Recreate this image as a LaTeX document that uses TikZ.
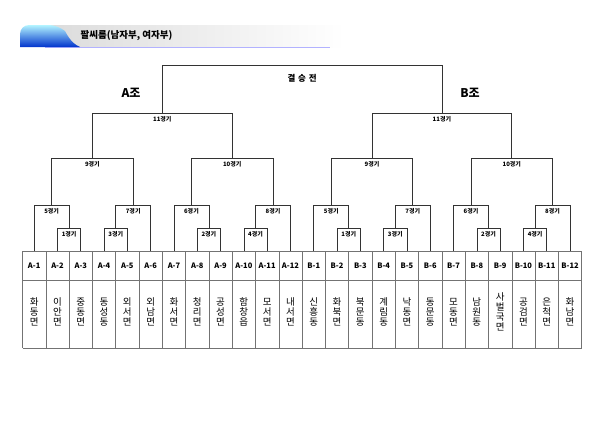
\documentclass[tikz,border=0pt]{standalone}
\usepackage{fontspec}
\setmainfont{Noto Sans CJK KR}
\usetikzlibrary{calc}
\tikzset{
 br/.style={draw=black!80,line width=0.7pt},
 glab/.style={font=\fontsize{6}{6}\selectfont\bfseries,inner sep=1pt},
 idlab/.style={font=\fontsize{7.5}{8}\selectfont\bfseries},
 nmlab/.style={font=\fontsize{9.5}{10.2}\selectfont,align=center},
 grp/.style={font=\fontsize{12}{12}\selectfont\bfseries},
}
\newcommand\game[5]{% name,left,right,y(pt),label
 \draw[br] let \p1=(#2), \p2=(#3) in (\p1) -- (\x1,-#4 pt) -- node[glab,below=2.5pt]{#5} coordinate (#1) (\x2,-#4 pt) -- (\p2);}
\begin{document}
\begin{tikzpicture}[x=1pt,y=-1pt]
\useasboundingbox (0,0) rectangle (600,424);
% title bar
\shade[left color=black!14,right color=white] (45,25) rectangle (345,47);
\draw[blue!30,line width=0.6pt] (45,47.5) -- (330,47.5);
\shade[top color=blue!15!cyan!30,bottom color=blue!75!cyan!80!black,rounded corners=9pt] (20,47) -- (20,25) -- (58,25) [sharp corners] .. controls (66,32) and (70,43) .. (80,47) -- cycle;
\node[anchor=west,font=\fontsize{9.5}{10}\selectfont\bfseries] (title) at (77,36) {팔씨름(남자부, 여자부)};
% table
\def\cw{23.3}
\foreach \i in {0,...,24}{\draw[black!55,line width=0.6pt] ({22.5+\i*\cw},251) -- ({22.5+\i*\cw},348);}
\draw[black!55,line width=0.6pt] (22.5,251) -- ({22.5+24*\cw},251) (22.5,280) -- ({22.5+24*\cw},280) (22.5,348) -- ({22.5+24*\cw},348);
\foreach \n [count=\i] in {A-1,A-2,A-3,A-4,A-5,A-6,A-7,A-8,A-9,A-10,A-11,A-12,B-1,B-2,B-3,B-4,B-5,B-6,B-7,B-8,B-9,B-10,B-11,B-12}{
 \coordinate (c\i) at ({22.5+(\i-0.5)*\cw},251);
 \node[idlab] (id\i) at ({22.5+(\i-0.5)*\cw},265.5) {\n};}
\foreach \t [count=\i] in {화\\동\\면,이\\안\\면,중\\동\\면,동\\성\\동,외\\서\\면,외\\남\\면,화\\서\\면,청\\리\\면,공\\성\\면,함\\창\\읍,모\\서\\면,내\\서\\면,신\\흥\\동,화\\북\\면,북\\문\\동,계\\림\\동,낙\\동\\면,동\\문\\동,모\\동\\면,남\\원\\동,사\\벌\\국\\면,공\\검\\면,은\\척\\면,화\\남\\면}{
 \node[nmlab] (nm\i) at ({22.5+(\i-0.5)*\cw},312) {\t};}
% brackets
\foreach \g/\o in {A/0,B/12}{
 \pgfmathtruncatemacro\a{1+\o}\pgfmathtruncatemacro\b{2+\o}\pgfmathtruncatemacro\c{3+\o}
 \pgfmathtruncatemacro\d{4+\o}\pgfmathtruncatemacro\e{5+\o}\pgfmathtruncatemacro\f{6+\o}
 \pgfmathtruncatemacro\gg{7+\o}\pgfmathtruncatemacro\h{8+\o}\pgfmathtruncatemacro\k{9+\o}
 \pgfmathtruncatemacro\l{10+\o}\pgfmathtruncatemacro\m{11+\o}\pgfmathtruncatemacro\q{12+\o}
 \game{\g m1}{c\b}{c\c}{228}{1경기}
 \game{\g m5}{c\a}{\g m1}{205}{5경기}
 \game{\g m3}{c\d}{c\e}{228}{3경기}
 \game{\g m7}{\g m3}{c\f}{205}{7경기}
 \game{\g m9}{\g m5}{\g m7}{158}{9경기}
 \game{\g m2}{c\h}{c\k}{228}{2경기}
 \game{\g m6}{c\gg}{\g m2}{205}{6경기}
 \game{\g m4}{c\l}{c\m}{228}{4경기}
 \game{\g m8}{\g m4}{c\q}{205}{8경기}
 \game{\g m10}{\g m6}{\g m8}{158}{10경기}
 \game{\g m11}{\g m9}{\g m10}{113}{11경기}
}
\draw[br] let \p1=(Am11), \p2=(Bm11) in (\p1) -- (\x1,-65pt) -- coordinate (fin) (\x2,-65pt) -- (\p2);
\node[font=\fontsize{8.5}{9}\selectfont\bfseries] (final) at ($(fin)+(0,13)$) {결\,\,승\,\,전};
\node[grp] (ga) at (131,93) {A조};
\node[grp] (gb) at (470,93) {B조};
\end{tikzpicture}
\end{document}
